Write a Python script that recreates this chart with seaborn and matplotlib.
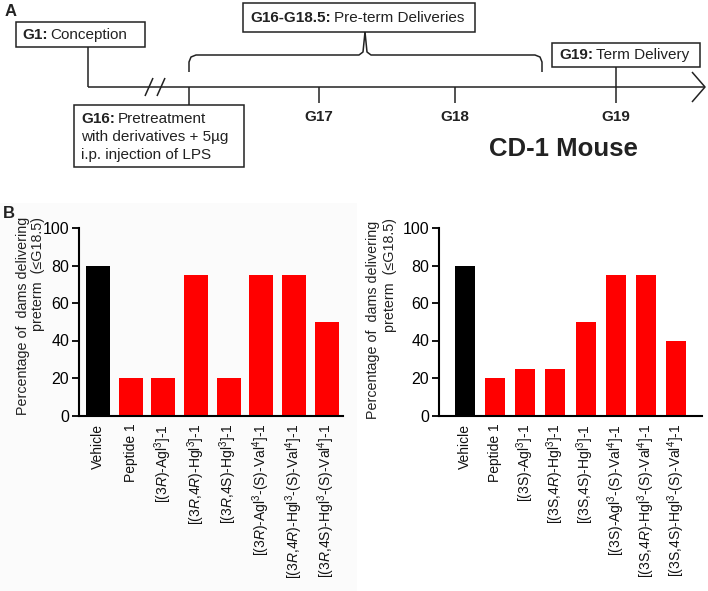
import matplotlib
matplotlib.use("Agg")
import matplotlib.pyplot as plt
import seaborn as sns
import pandas as pd

sns.set_theme(style="ticks")
plt.rcParams['font.family'] = ['Liberation Sans', 'DejaVu Sans']
plt.rcParams['mathtext.fontset'] = 'custom'
plt.rcParams['mathtext.rm'] = 'Liberation Sans'
plt.rcParams['mathtext.it'] = 'Liberation Sans:italic'
plt.rcParams['mathtext.bf'] = 'Liberation Sans:bold'

# ---------------- data ----------------
left_labels = [
    "Vehicle", "Peptide 1",
    r"[(3$\it{R}$)-Agl$^{3}$]-1",
    r"[(3$\it{R}$,4$\it{R}$)-Hgl$^{3}$]-1",
    r"[(3$\it{R}$,4S)-Hgl$^{3}$]-1",
    r"[(3$\it{R}$)-Agl$^{3}$-(S)-Val$^{4}$]-1",
    r"[(3$\it{R}$,4$\it{R}$)-Hgl$^{3}$-(S)-Val$^{4}$]-1",
    r"[(3$\it{R}$,4S)-Hgl$^{3}$-(S)-Val$^{4}$]-1",
]
left_values = [80, 20, 20, 75, 20, 75, 75, 50]

right_labels = [
    "Vehicle", "Peptide 1",
    r"[(3S)-Agl$^{3}$]-1",
    r"[(3S,4$\it{R}$)-Hgl$^{3}$]-1",
    r"[(3S,4S)-Hgl$^{3}$]-1",
    r"[(3S)-Agl$^{3}$-(S)-Val$^{4}$]-1",
    r"[(3S,4$\it{R}$)-Hgl$^{3}$-(S)-Val$^{4}$]-1",
    r"[(3S,4S)-Hgl$^{3}$-(S)-Val$^{4}$]-1",
]
right_values = [80, 20, 25, 25, 50, 75, 75, 40]

y_ticks = [0, 20, 40, 60, 80, 100]
ylabel_1 = "Percentage of  dams delivering"
ylabel_2 = "preterm  (\u2264G18.5)"

W, H = 708, 591
fig = plt.figure(figsize=(W / 100, H / 100), dpi=100)

# ---------------- panel A (schematic timeline) ----------------
axA = fig.add_axes([0, 0, 1, 1])
axA.set_xlim(0, W)
axA.set_ylim(H, 0)
axA.axis("off")
axA.patch.set_alpha(0)
renderer = fig.canvas.get_renderer()
lw = 1.1
kc = "#222222"
FS = 11

# very faint grey backdrop behind left chart
axA.add_patch(plt.Rectangle((0, 203), 357, H - 203, facecolor="#fbfbfb",
                            edgecolor="none", zorder=0))


def line(xs, ys):
    axA.plot(xs, ys, color=kc, lw=lw, solid_capstyle="butt")


def rect(x0, y0, x1, y1):
    axA.add_patch(plt.Rectangle((x0, y0), x1 - x0, y1 - y0, fill=False,
                                edgecolor=kc, lw=lw))


def btext(x, y, bold, normal, fs=FS):
    t = axA.text(x, y, bold, fontsize=fs, fontweight="bold", va="center",
                 ha="left", color=kc)
    bb = t.get_window_extent(renderer)
    axA.text(x + bb.width + 3, y, normal, fontsize=fs, va="center",
             ha="left", color=kc)


axA.text(5, 11, "A", fontsize=12, fontweight="bold", va="center", color=kc)
rect(16, 22, 145, 47)
btext(22, 35, "G1:", "Conception")
rect(243, 3, 475, 32)
btext(250, 18, "G16-G18.5:", "Pre-term Deliveries")
rect(552, 43, 700, 67)
btext(559, 55, "G19:", "Term Delivery")
rect(74, 105, 244, 167)
btext(81, 119, "G16:", "Pretreatment")
axA.text(81, 137, "with derivatives + 5\u00b5g", fontsize=FS, va="center", color=kc)
axA.text(81, 155, "i.p. injection of LPS", fontsize=FS, va="center", color=kc)

# axis line with open arrow
line([88, 705], [87, 87])
line([692, 705, 692], [72, 87, 102])
line([88, 88], [47, 87])
# break marks
line([145, 153], [96, 78])
line([157, 165], [96, 78])
# ticks
line([189, 189], [87, 105])
line([319, 319], [87, 103])
line([455, 455], [87, 103])
line([616, 616], [67, 103])
for x, lab in [(319, "G17"), (455, "G18"), (616, "G19")]:
    axA.text(x, 117, lab, fontsize=FS, fontweight="bold", ha="center",
             va="center", color=kc)
# bracket
xm = 365
line([189, 189, 191, 196, xm - 6, xm - 2, xm], [72, 62, 57, 55, 55, 52, 32])
line([542, 542, 540, 535, xm + 6, xm + 2, xm], [72, 62, 57, 55, 55, 52, 32])
axA.text(563, 149, "CD-1 Mouse", fontsize=18.5, fontweight="bold",
         ha="center", va="center", color=kc)

# ---------------- panel B (bar charts) ----------------
fig.text(3 / W, 1 - 213 / H, "B", fontsize=12, fontweight="bold",
         va="center", color=kc)


def bar_panel(x0, x1, labels, values, width, xlim):
    top, bot = 228, 415.5
    ax = fig.add_axes([x0 / W, 1 - bot / H, (x1 - x0) / W, (bot - top) / H])
    df = pd.DataFrame({"label": labels, "value": values})
    pal = {lab: ("black" if i == 0 else "#ff0000") for i, lab in enumerate(labels)}
    sns.barplot(data=df, x="label", y="value", hue="label", palette=pal,
                width=width, legend=False, ax=ax, saturation=1,
                edgecolor="none")
    ax.set_ylim(0, 100)
    ax.set_yticks(y_ticks)
    ax.set_xlim(*xlim)
    ax.set_xlabel("")
    ax.set_ylabel("")
    sns.despine(ax=ax)
    for s in ["left", "bottom"]:
        ax.spines[s].set_linewidth(1.5)
        ax.spines[s].set_color("black")
    ax.tick_params(axis="y", length=5, width=1.3, labelsize=11.5, pad=2,
                   colors="black")
    ax.tick_params(axis="x", length=0, labelsize=10, pad=6)
    ax.set_xticks(range(len(labels)))
    ax.set_xticklabels(labels, rotation=90, color="#111111")
    ax.patch.set_alpha(0)
    return ax


axL = bar_panel(79, 343, left_labels, left_values, 0.73, (-0.58, 7.5))
axR = bar_panel(439, 702, right_labels, right_values, 0.66, (-0.86, 7.86))

for xa, xb, ya, yb in [(23, 38, 316, 274), (373, 390, 320, 275)]:
    fig.text(xa / W, 1 - ya / H, ylabel_1, rotation=90, fontsize=10.3,
             ha="center", va="center", color=kc)
    fig.text(xb / W, 1 - yb / H, ylabel_2, rotation=90, fontsize=10.3,
             ha="center", va="center", color=kc)

fig.savefig("out.png", dpi=100)
